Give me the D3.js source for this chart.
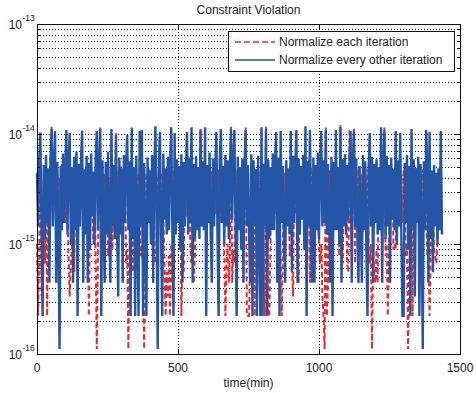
<!DOCTYPE html>
<html>
<head>
<meta charset="utf-8">
<script src="https://cdn.jsdelivr.net/npm/d3@7"></script>
<style>
body{margin:0;background:#fff;}
text{font-family:"Liberation Sans",Arial,sans-serif;fill:#222;}
</style>
</head>
<body>
<script>
/* datos: violacion en multiplos de violUnit, una muestra cada sampleStep minutos */
const violUnit = 1.11e-16;
const sampleStep = 4;

// Normalize every other iteration (azul)
const everyOther = [
 40,13,52,93,12,2,47,10,58,14,44,4,55,100,13,48,96,4,50,10,
 1,46,12,60,14,42,98,11,50,92,9,45,4,56,12,62,2,48,13,53,
 97,4,43,11,57,4,49,8,60,16,41,9,54,96,12,46,100,2,52,13,
 4,50,11,62,14,4,100,13,47,10,88,12,3,55,11,44,4,58,14,49,
 88,12,51,2,103,10,45,2,57,12,2,96,13,98,2,49,11,2,55,14,
 42,9,58,4,47,106,13,1,52,94,11,2,60,15,44,11,56,12,48,104,
 12,2,92,11,53,14,46,8,59,4,50,13,43,94,11,55,14,104,4,48,
 10,57,12,45,10,98,13,51,12,104,2,47,14,61,11,4,54,13,43,94,
 11,2,50,100,14,46,9,58,13,52,10,44,100,15,48,98,12,2,56,12,
 45,8,54,4,50,98,13,47,11,4,59,2,52,14,43,2,57,11,2,104,
 2,48,13,100,2,53,10,45,12,60,12,50,94,4,55,2,96,14,46,9,
 4,52,13,44,11,96,5,57,14,49,98,4,54,11,46,15,58,8,106,2,
 51,13,98,12,4,55,4,47,12,61,10,44,96,13,52,14,98,11,48,14,
 4,56,2,50,12,98,12,45,9,104,4,53,13,59,11,47,15,55,96,4,
 49,96,13,54,11,4,46,14,4,58,12,51,8,2,44,92,13,56,4,48,
 14,53,11,45,12,104,4,50,98,10,57,13,47,4,55,15,43,12,96,9,
 52,13,92,11,2,2,49,14,58,8,46,2,100,13,53,3,44,14,56,2,
 48,12,1,51,12,98,45,4,94,10,42,5,47,13,40,9,44,12,96,11
];

// Normalize each iteration (rojo)
const eachIter = [
 9,2,8,40,3,7,35,6,44,2,38,14,46,105,18,40,30,12,42,16,
 36,15,48,18,40,14,44,17,7,3,6,8,39,5,43,16,47,15,41,19,
 45,14,38,17,46,13,2,16,42,19,9,37,6,1,7,40,104,8,44,17,
 39,15,47,7,9,6,43,8,45,16,93,18,41,14,46,17,38,15,44,6,
 8,1,7,42,9,5,40,16,45,18,39,15,7,9,6,1,8,40,14,44,
 17,41,15,46,7,6,8,38,16,43,14,40,18,6,2,5,3,7,2,9,
 4,42,15,45,17,39,14,44,2,7,5,40,16,43,18,38,8,6,9,4,
 7,42,15,46,18,103,14,40,17,45,16,39,14,44,18,41,15,47,17,40,
 16,43,14,38,18,45,8,2,6,9,4,7,105,4,8,6,42,17,44,15,
 39,16,46,14,41,103,2,2,2,7,40,15,44,2,38,17,45,15,42,18,
 40,8,2,105,7,2,2,9,43,16,39,17,46,15,41,18,7,2,8,40,
 16,44,14,38,7,9,6,3,42,17,45,6,4,40,15,46,18,39,14,43,
 16,40,4,45,17,38,14,44,18,41,8,6,9,3,2,1,103,2,4,42,
 15,45,17,39,14,43,18,40,7,108,9,6,44,15,40,6,5,100,14,38,
 17,101,6,41,16,44,18,39,15,46,17,40,14,43,8,6,9,1,7,5,
 4,8,4,42,17,45,15,39,103,7,9,2,6,40,16,44,8,9,8,41,
 15,45,17,39,14,43,18,7,9,1,6,8,40,2,40,16,44,17,41,15,
 39,16,43,14,40,17,7,9,2,6,38,15,8,7,6,9,36,14,40,15
];

const xTicks = [0, 500, 1000, 1500];
const yExponents = [-16, -15, -14, -13];
const legendLabels = ["Normalize each iteration", "Normalize every other iteration"];

const width = 476, height = 393;
const margin = {left: 37, right: 16, top: 24, bottom: 39};

const svg = d3.select("body").append("svg").attr("width", width).attr("height", height);

const x = d3.scaleLinear().domain([0, 1500]).range([margin.left, width - margin.right]);
const y = d3.scaleLog().domain([1e-16, 1e-13]).range([height - margin.bottom, margin.top]);

/* grid punteado */
const minorY = [];
yExponents.forEach(function(e){
    if(e === -13) return;
    for(let m = 1; m <= 9; m++) minorY.push(m * Math.pow(10, e));
});
const grid = svg.append("g").attr("stroke", "#000").attr("stroke-width", 1).attr("stroke-dasharray", "1,2");
grid.selectAll(".gy").data(minorY.filter(function(v){ return v > 1e-16; })).enter().append("line")
    .attr("x1", x(0)).attr("x2", x(1500))
    .attr("y1", function(d){ return Math.round(y(d)) + 0.5; })
    .attr("y2", function(d){ return Math.round(y(d)) + 0.5; });
grid.selectAll(".gx").data([500, 1000]).enter().append("line")
    .attr("y1", y(1e-16)).attr("y2", y(1e-13))
    .attr("x1", function(d){ return Math.round(x(d)) + 0.5; })
    .attr("x2", function(d){ return Math.round(x(d)) + 0.5; });

/* lineas */
const line = d3.line()
    .x(function(d, i){ return x(i * sampleStep); })
    .y(function(d){ return y(d * violUnit); });

svg.append("path").datum(eachIter)
    .attr("fill", "none").attr("stroke", "#ec2a2c").attr("stroke-width", 2)
    .attr("stroke-dasharray", "5,3").attr("d", line);

svg.append("path").datum(everyOther)
    .attr("fill", "none").attr("stroke", "#2356a6").attr("stroke-width", 2.4)
    .attr("stroke-linejoin", "miter").attr("stroke-miterlimit", 1.5)
    .attr("d", line);

/* caja y ticks hacia dentro */
svg.append("rect").attr("x", x(0) + 0.5).attr("y", y(1e-13) + 0.5)
    .attr("width", x(1500) - x(0)).attr("height", y(1e-16) - y(1e-13))
    .attr("fill", "none").attr("stroke", "#111").attr("stroke-width", 1);

const ticks = svg.append("g").attr("stroke", "#111").attr("stroke-width", 1);
xTicks.forEach(function(t){
    const px = Math.round(x(t)) + 0.5;
    ticks.append("line").attr("x1", px).attr("x2", px).attr("y1", y(1e-16)).attr("y2", y(1e-16) - 5);
    ticks.append("line").attr("x1", px).attr("x2", px).attr("y1", y(1e-13)).attr("y2", y(1e-13) + 5);
});
minorY.concat([1e-13]).forEach(function(v){
    const py = Math.round(y(v)) + 0.5;
    const len = (Math.abs(Math.log10(v) - Math.round(Math.log10(v))) < 1e-9) ? 5 : 3;
    ticks.append("line").attr("x1", x(0)).attr("x2", x(0) + len).attr("y1", py).attr("y2", py);
    ticks.append("line").attr("x1", x(1500)).attr("x2", x(1500) - len).attr("y1", py).attr("y2", py);
});

/* etiquetas */
svg.selectAll(".xl").data(xTicks).enter().append("text")
    .attr("x", function(d){ return x(d); }).attr("y", 372)
    .attr("text-anchor", "middle").attr("font-size", 12).text(function(d){ return d; });

yExponents.forEach(function(e){
    const py = y(Math.pow(10, e));
    svg.append("text").attr("x", 22).attr("y", py + 5).attr("text-anchor", "end")
        .attr("font-size", 12).text("10");
    svg.append("text").attr("x", 22.5).attr("y", py - 3)
        .attr("font-size", 8.5).text(String(e));
});

svg.append("text").attr("x", (x(0) + x(1500)) / 2).attr("y", 14)
    .attr("text-anchor", "middle").attr("font-size", 12).text("Constraint Violation");
svg.append("text").attr("x", (x(0) + x(1500)) / 2).attr("y", 387)
    .attr("text-anchor", "middle").attr("font-size", 12).text("time(min)");

/* leyenda */
const leg = svg.append("g");
leg.append("rect").attr("x", 228.5).attr("y", 31.5).attr("width", 226).attr("height", 40)
    .attr("fill", "#fff").attr("stroke", "#111").attr("stroke-width", 1);
leg.append("line").attr("x1", 235).attr("x2", 275).attr("y1", 42).attr("y2", 42)
    .attr("stroke", "#ec2a2c").attr("stroke-width", 1.6).attr("stroke-dasharray", "6,3");
leg.append("line").attr("x1", 235).attr("x2", 275).attr("y1", 60).attr("y2", 60)
    .attr("stroke", "#2356a6").attr("stroke-width", 1.6);
leg.selectAll(".lt").data(legendLabels).enter().append("text")
    .attr("x", 279).attr("y", function(d, i){ return 46 + i * 18; })
    .attr("font-size", 12).text(function(d){ return d; });
</script>
</body>
</html>
